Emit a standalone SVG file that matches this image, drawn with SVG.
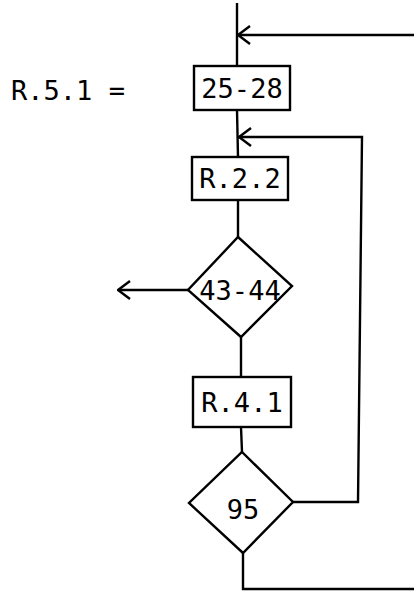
<svg xmlns="http://www.w3.org/2000/svg" width="414" height="592" viewBox="0 0 414 592">
<style>
.s{fill:none;stroke:#000;stroke-width:2.4}
.n{fill:#fff;stroke:#000;stroke-width:2.4}
.t{font-family:"DejaVu Sans Mono","Liberation Mono",monospace;font-size:27px;fill:#000;text-anchor:middle}
</style>
<defs>
<marker id="ah" viewBox="0 0 14 20" refX="13" refY="10" markerWidth="14" markerHeight="20" markerUnits="userSpaceOnUse" orient="auto">
<path d="M1,1 L13,10 L1,19" fill="none" stroke="#000" stroke-width="2.4"/>
</marker>
</defs>
<rect width="414" height="592" fill="#fff"/>
<text class="t" x="68" y="100">R.5.1 =</text>
<g id="connectors">
<path class="s" d="M237,3 L237,66"/>
<path class="s" d="M414,35 L238,35" marker-end="url(#ah)"/>
<path class="s" d="M237,110 L238,157"/>
<path class="s" d="M293,502 L358,502 L362,137 L239,137" marker-end="url(#ah)"/>
<path class="s" d="M238,200 L238,237"/>
<path class="s" d="M188,290 L118,290" marker-end="url(#ah)"/>
<path class="s" d="M241,337 L241,377"/>
<path class="s" d="M241,427 L242,452"/>
<path class="s" d="M243,553 L243,589 L414,589"/>
</g>
<g id="n1">
<rect class="n" x="194" y="66" width="96" height="44"/>
<text class="t" x="242" y="98">25-28</text>
</g>
<g id="n2">
<rect class="n" x="192" y="157" width="96" height="43"/>
<text class="t" x="240" y="188">R.2.2</text>
</g>
<g id="n3">
<polygon class="n" points="238,237 292,286 241,337 188,290"/>
<text class="t" x="240" y="300">43-44</text>
</g>
<g id="n4">
<rect class="n" x="193" y="377" width="98" height="50"/>
<text class="t" x="242" y="412">R.4.1</text>
</g>
<g id="n5">
<polygon class="n" points="242,452 293,502 243,553 189,503"/>
<text class="t" x="243" y="519">95</text>
</g>
</svg>
